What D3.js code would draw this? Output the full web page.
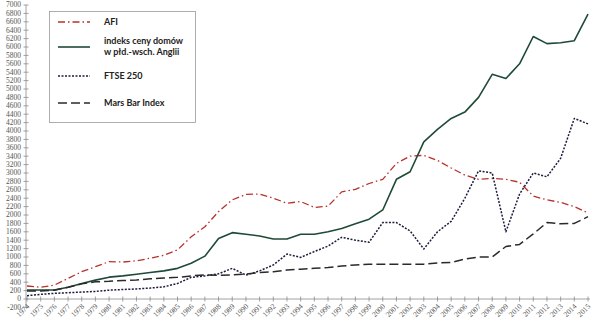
<!DOCTYPE html>
<html>
<head>
<meta charset="utf-8">
<script src="https://cdn.jsdelivr.net/npm/d3@7"></script>
<style>
  html, body { margin: 0; padding: 0; background: #fff; }
  svg { display: block; }
</style>
</head>
<body>
<svg id="chart" width="604" height="325"></svg>
<script>
// Years on the category axis
const years = d3.range(1974, 2016);

// Series values, one per year 1974–2015
const afi = [310, 280, 330, 490, 650, 770, 890, 880, 910, 970, 1040, 1170, 1480, 1720, 2080, 2360, 2490, 2500, 2400, 2280, 2320, 2180, 2210, 2550, 2610, 2750, 2850, 3230, 3400, 3420, 3300, 3120, 2950, 2850, 2870, 2850, 2780, 2450, 2360, 2300, 2200, 2050];
const houseIndex = [215, 215, 215, 280, 370, 450, 520, 550, 590, 630, 670, 730, 850, 1020, 1440, 1580, 1540, 1500, 1430, 1430, 1540, 1540, 1600, 1680, 1790, 1900, 2120, 2850, 3030, 3740, 4040, 4300, 4450, 4800, 5350, 5250, 5600, 6250, 6080, 6100, 6150, 6780];
const ftse250 = [80, 110, 135, 150, 165, 180, 210, 225, 240, 260, 290, 370, 515, 550, 600, 730, 570, 670, 810, 1070, 990, 1130, 1260, 1470, 1400, 1350, 1820, 1820, 1620, 1190, 1600, 1850, 2400, 3050, 3000, 1600, 2500, 3000, 2910, 3350, 4300, 4170];
const marsBar = [190, 190, 210, 280, 360, 410, 420, 440, 450, 480, 500, 515, 550, 575, 565, 575, 590, 630, 650, 690, 710, 730, 750, 785, 810, 830, 830, 830, 830, 830, 860, 870, 950, 1000, 1000, 1250, 1300, 1550, 1820, 1790, 1800, 1960];

// Y tick labels
const yTicks = d3.range(-200, 7001, 200);

const seriesNames = ["AFI", "indeks ceny domów|w płd.-wsch. Anglii", "FTSE 250", "Mars Bar Index"];
const seriesValues = [afi, houseIndex, ftse250, marsBar];

const styles = [
  { stroke: "#b8322c", width: 1.3, dash: "7,3,1.5,3" },
  { stroke: "#1e4a36", width: 1.6, dash: null },
  { stroke: "#1c1c3c", width: 1.5, dash: "2,1.5" },
  { stroke: "#2a2a2a", width: 1.5, dash: "9,4" }
];

const svg = d3.select("#chart");

const x = d3.scaleLinear().domain([1974, 2015]).range([27, 588]);
const y = d3.scaleLinear().domain([-200, 7000]).range([307.4, 5]);

const axisColor = "#8a8a8a";
const tickFont = "'Liberation Serif', 'DejaVu Serif', serif";

// Y axis: line with crossing ticks
const yAxis = svg.append("g").attr("transform", `translate(${x(1974) - 1},0)`);
yAxis.append("line")
  .attr("y1", y(-200)).attr("y2", y(7000))
  .attr("stroke", axisColor).attr("stroke-width", 0.8);
yAxis.selectAll("line.tick").data(yTicks).join("line")
  .attr("class", "tick")
  .attr("x1", -2.5).attr("x2", 2.5)
  .attr("y1", d => y(d)).attr("y2", d => y(d))
  .attr("stroke", axisColor).attr("stroke-width", 0.8);
yAxis.selectAll("text").data(yTicks).join("text")
  .attr("x", -5).attr("y", d => y(d))
  .attr("dy", "0.32em")
  .attr("text-anchor", "end")
  .attr("font-family", tickFont)
  .attr("font-size", 7.5)
  .attr("fill", "#555")
  .text(d => d);

// X axis along zero
const xAxis = svg.append("g").attr("transform", `translate(0,${y(0)})`);
xAxis.append("line")
  .attr("x1", x(1974) - 1).attr("x2", x(2015) + 2)
  .attr("stroke", axisColor).attr("stroke-width", 0.8);
xAxis.selectAll("line.tick").data(years).join("line")
  .attr("class", "tick")
  .attr("x1", d => x(d)).attr("x2", d => x(d))
  .attr("y1", -2.5).attr("y2", 2.5)
  .attr("stroke", axisColor).attr("stroke-width", 0.8);
xAxis.selectAll("text").data(years).join("text")
  .attr("transform", d => `translate(${x(d) + 1},6) rotate(-45)`)
  .attr("text-anchor", "end")
  .attr("dy", "0.35em")
  .attr("font-family", tickFont)
  .attr("font-size", 7.5)
  .attr("fill", "#555")
  .text(d => d);

// Series lines
const line = d3.line()
  .x((d, i) => x(years[i]))
  .y(d => y(d));

svg.append("g").selectAll("path")
  .data(seriesValues)
  .join("path")
  .attr("d", d => line(d))
  .attr("fill", "none")
  .attr("stroke", (d, i) => styles[i].stroke)
  .attr("stroke-width", (d, i) => styles[i].width)
  .attr("stroke-dasharray", (d, i) => styles[i].dash)
  .attr("stroke-linejoin", "round");

// Legend
const legend = svg.append("g");
legend.append("rect")
  .attr("x", 49.5).attr("y", 11.5)
  .attr("width", 146).attr("height", 111)
  .attr("fill", "#fff")
  .attr("stroke", "#9a9a9a").attr("stroke-width", 0.8);

const legendRows = [22, 47, 76, 103];
seriesNames.forEach((name, i) => {
  const yy = legendRows[i];
  legend.append("line")
    .attr("x1", 58).attr("x2", 90)
    .attr("y1", yy).attr("y2", yy)
    .attr("stroke", styles[i].stroke)
    .attr("stroke-width", styles[i].width)
    .attr("stroke-dasharray", styles[i].dash);
  const parts = name.split("|");
  const t = legend.append("text")
    .attr("x", 104)
    .attr("font-family", "Lato, 'Open Sans', sans-serif")
    .attr("font-weight", "bold")
    .attr("font-size", 9)
    .attr("fill", "#222");
  if (parts.length === 1) {
    t.attr("y", yy).attr("dy", "0.35em").text(name);
  } else {
    parts.forEach((p, k) => {
      t.append("tspan")
        .attr("x", 104)
        .attr("y", yy - 3 + k * 11)
        .text(p);
    });
  }
});
</script>
</body>
</html>
